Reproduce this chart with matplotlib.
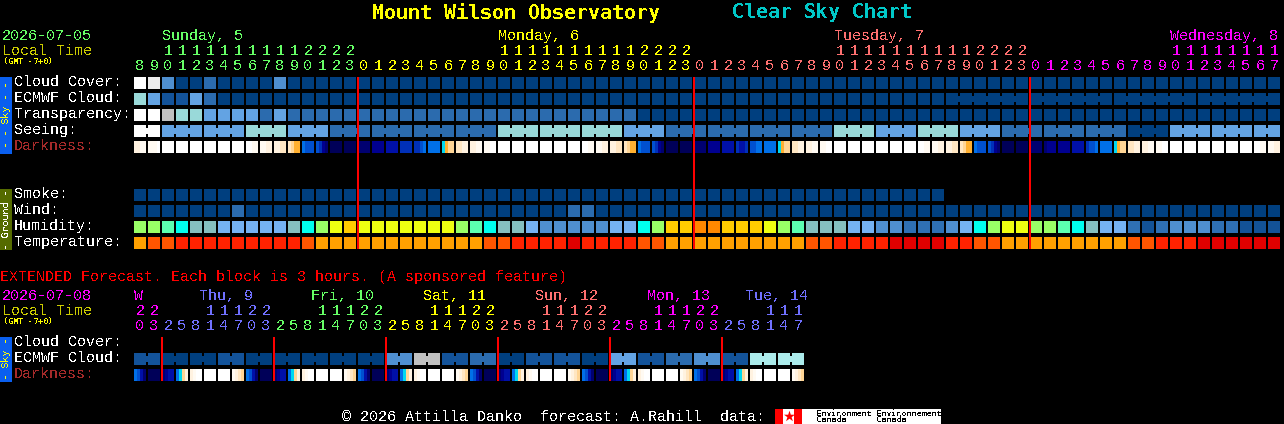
import numpy as np
import matplotlib
matplotlib.use("Agg")
import matplotlib.pyplot as plt

# ---------- data ----------
HOURS = [8,9,10,11,12,13,14,15,16,17,18,19,20,21,22,23,
         0,1,2,3,4,5,6,7,8,9,10,11,12,13,14,15,16,17,18,19,20,21,22,23,
         0,1,2,3,4,5,6,7,8,9,10,11,12,13,14,15,16,17,18,19,20,21,22,23,
         0,1,2,3,4,5,6,7,8,9,10,11,12,13,14,15,16,17]
EXT_HOURS = [20,23,
             2,5,8,11,14,17,20,23, 2,5,8,11,14,17,20,23, 2,5,8,11,14,17,20,23,
             2,5,8,11,14,17,20,23, 2,5,8,11,14,17,20,23, 2,5,8,11,14,17]

# sky levels (0 = best)
cloud_cover = [8,7,3,0,0,2,0,0,0,0,3,0,0,0,0,0,
               0,0,0,0,0,0,0,0,0,0,0,0,0,0,0,0,0,0,0,0,0,0,0,0,
               0,0,0,0,0,0,0,0,0,0,0,0,0,0,0,0,0,0,0,0,0,0,0,0,
               0,0,0,0,0,0,0,0,0,0,0,0,0,0,0,0,0,0]
ecmwf_cloud = [5,4,1,1,4,2,0,0,0,0,0,0,0,0,0,0,
               0,0,0,0,0,0,0,0,0,0,0,0,0,0,0,0,0,0,0,0,0,0,0,0,
               0,0,0,0,0,0,0,0,0,0,0,0,0,0,0,0,0,0,0,0,0,0,0,0,
               0,0,0,0,0,0,0,0,0,0,0,0,0,0,0,0,0,0]
transparency = [8,8,6,5,5,4,4,4,4,2,4,2,2,2,2,2,
                2,2,2,2,2,2,2,2,2,2,2,2,2,2,2,2,2,2,2,2,0,0,0,0,
                0,0,0,0,0,0,0,0,0,0,0,0,0,0,0,0,0,0,0,0,0,0,0,0,
                0,0,0,0,0,0,0,0,0,0,0,0,0,0,0,0,0,0]
seeing = [8,8,4,4,4,4,4,4,5,5,5,4,4,4,2,2,
          2,2,2,2,2,2,2,2,2,2,5,5,5,5,5,5,5,5,5,4,4,4,2,2,
          2,2,2,2,2,2,2,2,2,2,5,5,5,4,4,4,5,5,5,4,4,4,2,2,
          2,2,2,2,2,2,2,0,0,0,4,4,4,4,4,4,4,4]
smoke = [0,0,0,0,0,0,0,0,0,0,0,0,0,0,0,0,
         0,0,0,0,0,0,0,0,0,0,0,0,0,0,0,0,0,0,0,0,0,0,0,0,
         0,0,0,0,0,0,0,0,0,0,0,0,0,0,0,0,0,0]
wind = [0,0,0,0,0,0,0,2,0,0,0,0,0,0,0,0,
        0,0,0,0,0,0,0,0,0,0,0,0,0,0,0,2,2,0,0,0,0,0,0,0,
        0,0,0,0,0,0,0,0,0,0,0,0,0,0,0,0,0,0,0,0,0,0,0,0,
        0,0,0,0,0,0,0,0,0,0,0,0,0,0,0,0,0,0]
humidity = [8,8,9,10,7,7,6,6,6,6,6,7,10,8,11,12,
            11,11,11,11,11,11,11,8,9,10,7,7,6,5,5,5,5,5,6,6,10,8,12,12,
            13,13,12,12,12,11,8,9,7,7,7,6,6,5,5,4,4,4,5,6,10,8,11,11,
            8,8,9,10,7,6,6,4,3,4,5,5,5,4,4,3,3,3]
temperature = [0,1,1,2,2,2,2,2,2,2,2,2,1,0,0,0,
               0,0,0,0,0,0,0,0,0,1,1,2,2,2,2,3,2,2,2,2,1,1,0,0,
               0,0,0,0,0,0,0,0,1,1,2,2,2,2,3,3,3,3,2,2,1,1,0,0,
               0,0,0,0,0,0,0,1,1,2,2,2,3,3,3,3,3,3]

# darkness: four readings inside each block (0 = daylight ... 13 = darkest night)
darkness = [
 (2,2,1,1),(1,1,1,0),(0,0,0,0),(0,0,0,0),(0,0,0,0),(0,0,0,0),(0,0,0,0),(0,0,0,0),
 (0,0,1,1),(1,1,2,2),(2,2,3,3),(3,4,5,5),(7,8,8,8),(8,9,11,12),(13,13,13,13),(13,13,13,13),
 (12,12,12,12),(11,11,11,11),(10,10,10,10),(9,9,9,9),(9,9,8,7),(7,7,7,7),(6,5,4,4),(3,3,2,2),
 (2,2,1,1),(1,1,0,0),(0,0,0,0),(0,0,0,0),(0,0,0,0),(0,0,0,0),(0,0,0,0),(0,0,0,0),
 (0,0,1,1),(1,1,2,2),(2,2,3,3),(3,4,5,5),(7,8,8,8),(8,9,11,12),(13,13,13,13),(13,13,13,13),
 (12,12,12,12),(11,11,11,11),(10,10,10,10),(9,10,10,9),(8,8,7,7),(7,7,7,7),(6,5,4,4),(3,3,2,2),
 (2,2,1,1),(1,1,0,0),(0,0,0,0),(0,0,0,0),(0,0,0,0),(0,0,0,0),(0,0,0,0),(0,0,0,0),
 (0,0,1,1),(1,1,2,2),(2,2,3,3),(3,4,5,5),(7,8,8,8),(8,9,11,12),(13,13,13,13),(13,13,13,13),
 (12,12,12,12),(12,11,11,11),(11,11,11,11),(10,10,10,10),(9,8,8,7),(7,7,7,7),(6,5,4,4),(3,3,2,2),
 (2,2,1,1),(1,1,0,0),(0,0,0,0),(0,0,0,0),(0,0,0,0),(0,0,0,0),(0,0,0,0),(0,0,0,0),
 (0,0,1,1),(1,1,2,2),
]

ext_ecmwf = [1,1,0,0,0,0,1,1,0,0,0,0,0,0,0,0,0,0,
             3,3,6,6,1,1,2,2,0,0,1,1,1,1,0,0,
             4,4,1,1,2,2,3,3,1,1,9,9,9,9]
ext_darkness = [
 (7,8,10,12),(13,13,13,13),(12,11,10,10),(7,6,4,2),(2,1,0,0),(0,0,0,0),(0,0,0,0),(1,2,3,4),
 (7,8,10,12),(13,13,13,13),(12,11,10,10),(7,6,4,2),(2,1,0,0),(0,0,0,0),(0,0,0,0),(1,2,3,4),
 (7,8,10,12),(13,13,13,13),(12,11,10,10),(7,6,4,2),(2,1,0,0),(0,0,0,0),(0,0,0,0),(1,2,3,4),
 (7,8,10,12),(13,13,13,13),(12,11,10,10),(7,6,4,2),(2,1,0,0),(0,0,0,0),(0,0,0,0),(1,2,3,4),
 (7,8,10,12),(13,13,13,13),(12,11,10,10),(7,6,4,2),(2,1,0,0),(0,0,0,0),(0,0,0,0),(1,2,3,4),
 (7,8,10,12),(13,13,13,13),(12,11,10,10),(7,6,4,2),(2,1,0,0),(0,0,0,0),(0,0,0,0),(1,2,3,4),
]

day_labels = ["Sunday, 5", "Monday, 6", "Tuesday, 7", "Wednesday, 8"]
ext_day_labels = ["W", "Thu, 9", "Fri, 10", "Sat, 11", "Sun, 12", "Mon, 13", "Tue, 14"]
sky_labels = ["Cloud Cover:", "ECMWF Cloud:", "Transparency:", "Seeing:", "Darkness:"]
ground_labels = ["Smoke:", "Wind:", "Humidity:", "Temperature:"]

# ---------- styles ----------
SKY = ["#003F7F", "#13539A", "#2B6BAE", "#4F8FD0", "#63A3E3", "#99D9D9",
       "#C0C0C0", "#ECECEC", "#FFFFFF", "#ABEBEB"]
HUM = ["", "", "", "#135297", "#2F70B4", "#4F8FD0", "#75B2F2", "#85BFBF",
       "#99FF66", "#5CFFB0", "#00FFEE", "#EEFF11", "#FFCC00", "#FF8800"]
TEMP = ["#FFA000", "#FF5500", "#FF2200", "#E00000"]
DARK = ["#FFFFFF", "#FFFAF2", "#FFF2E0", "#FFE6C2", "#FFD595", "#FFB030",
        "#00D8F0", "#0070E8", "#0050D0", "#0030B8", "#0010A8", "#000090",
        "#000070", "#000058"]

GREEN, YEL, SALMON, MAG, BLUE = "#66FF66", "#FFFF00", "#FF7070", "#FF00FF", "#7070FF"
DIM = "#CCCC00"
RED = "#FF0000"
plt.rcParams["font.family"] = "Liberation Mono"
plt.rcParams["text.antialiased"] = False
plt.rcParams["text.hinting"] = "native"
plt.rcParams["text.hinting_factor"] = 1
FS = 10.8
TITLE_FONT = "DejaVu Sans Mono"

X0, STEP, W = 134, 14, 12

fig = plt.figure(figsize=(12.84, 4.24), dpi=100, facecolor="black")
ax = fig.add_axes([0, 0, 1, 1], facecolor="black")
ax.set_xlim(0, 1284)
ax.set_ylim(424, 0)
ax.axis("off")

def block_x(n):
    return X0 + STEP * np.arange(n)

def row(values, top, palette, bridge=None):
    x = block_x(len(values))
    cols = [palette[v] for v in values]
    ax.bar(x, W, W, bottom=top, align="edge", color=cols, linewidth=0, antialiased=False)
    if bridge:
        for i in range(len(values) - 1):
            if bridge(i):
                ax.bar(x[i] + W, 6, 2, bottom=top + 3, align="edge",
                       color=cols[i], linewidth=0, antialiased=False)

def gradient_row(samples, top):
    x = block_x(len(samples))
    for xi, quad in zip(x, samples):
        ax.bar(xi + np.arange(4) * 3, W, 3, bottom=top, align="edge",
               color=[DARK[v] for v in quad], linewidth=0, antialiased=False)

def txt(x, y, s, color="white", fs=FS, **kw):
    kw.setdefault("ha", "left")
    kw.setdefault("va", "center")
    ax.text(x, y + 1, s, color=color, fontsize=fs, **kw)

# title
txt(372, 12, "Mount Wilson Observatory", YEL, 14.4, fontweight="bold", family=TITLE_FONT)
txt(732, 12, "Clear Sky Chart", "#00C8C8", 14.4, fontweight="bold", family=TITLE_FONT)

# main header
txt(2, 35, "2026-07-05", GREEN)
txt(2, 50, "Local Time", DIM)
txt(3, 61, "(GMT -7+0)", YEL, 5.8, family=TITLE_FONT)
for x, s, c in zip([162, 498, 834, 1170], day_labels, [GREEN, YEL, SALMON, MAG]):
    txt(x, 35, s, c)

def hour_colors(n_hours, breaks, colors):
    out = []
    for i in range(n_hours):
        out.append(colors[np.searchsorted(breaks, i, side="right")])
    return out

main_cols = hour_colors(len(HOURS), [16, 40, 64], [GREEN, YEL, SALMON, MAG])
for xi, h, c in zip(block_x(len(HOURS)) + 6, HOURS, main_cols):
    if h >= 10:
        txt(xi, 50, str(h // 10), c, ha="center")
    txt(xi, 65, str(h % 10), c, ha="center")

# side bars
ax.bar(0, 77, 12, bottom=77, align="edge", color="#0A5FEF", linewidth=0)
txt(6, 114.5, "- - Sky - -", YEL, 7.2, rotation=90, ha="center", family=TITLE_FONT)
ax.bar(0, 61, 12, bottom=189, align="edge", color="#556B00", linewidth=0)
txt(6, 218.5, "- Ground -", "white", 7.2, rotation=90, ha="center", family=TITLE_FONT)
ax.bar(0, 45, 12, bottom=337, align="edge", color="#0A5FEF", linewidth=0)
txt(6, 358.5, "- Sky -", YEL, 7.2, rotation=90, ha="center", family=TITLE_FONT)

# row labels
for y, s in zip([81, 97, 113, 129, 145], sky_labels):
    txt(14, y, s, "#A52A2A" if s.startswith("Dark") else "white")
for y, s in zip([193, 209, 225, 241], ground_labels):
    txt(14, y, s)

# main rows
row(cloud_cover, 77, SKY)
row(ecmwf_cloud, 93, SKY, bridge=lambda i: i >= 58 and (i + 1 - 58) % 6 != 0)
row(transparency, 109, SKY)
row(seeing, 125, SKY, bridge=lambda i: i == 0 or (i >= 2 and (i + 1 - 2) % 3 != 0))
gradient_row(darkness, 141)
row(smoke, 189, SKY)
row(wind, 205, SKY)
row(humidity, 221, HUM)
row(temperature, 237, TEMP)

# midnight lines
for i in [16, 40, 64]:
    ax.bar(X0 + STEP * i - 1, 172, 2, bottom=77, align="edge", color=RED, linewidth=0, zorder=5)

# extended section
txt(0, 276, "EXTENDED Forecast. Each block is 3 hours. (A sponsored feature)", RED)
txt(2, 295, "2026-07-08", MAG)
txt(2, 310, "Local Time", DIM)
txt(3, 321, "(GMT -7+0)", YEL, 5.8, family=TITLE_FONT)
for x, s, c in zip([134, 199, 311, 423, 535, 647, 745], ext_day_labels,
                   [MAG, BLUE, GREEN, YEL, SALMON, MAG, BLUE]):
    txt(x, 295, s, c)
ext_cols = hour_colors(len(EXT_HOURS), [2, 10, 18, 26, 34, 42],
                       [MAG, BLUE, GREEN, YEL, SALMON, MAG, BLUE])
for xi, h, c in zip(block_x(len(EXT_HOURS)) + 6, EXT_HOURS, ext_cols):
    if h >= 10:
        txt(xi, 310, str(h // 10), c, ha="center")
    txt(xi, 325, str(h % 10), c, ha="center")

for y, s in zip([341, 357, 373], [sky_labels[0], sky_labels[1], sky_labels[4]]):
    txt(14, y, s, "#A52A2A" if s.startswith("Dark") else "white")
row(ext_ecmwf, 353, SKY, bridge=lambda i: (i + 1) % 2 != 0)
gradient_row(ext_darkness, 369)
for i in [2, 10, 18, 26, 34, 42]:
    ax.bar(X0 + STEP * i - 1, 44, 2, bottom=337, align="edge", color=RED, linewidth=0, zorder=5)

# footer
txt(342, 416, "\u00a9 2026 Attilla Danko  forecast: A.Rahill  data:")
ax.bar(775, 15, 166, bottom=409, align="edge", color="white", linewidth=0)
ax.bar(775, 15, 8, bottom=409, align="edge", color=RED, linewidth=0)
ax.bar(794, 15, 8, bottom=409, align="edge", color=RED, linewidth=0)
ax.scatter([788.5], [416], marker="*", s=70, color=RED, linewidths=0)
txt(816, 412, "Environment", "black", 5.5, family=TITLE_FONT)
txt(816, 419, "Canada", "black", 5.5, family=TITLE_FONT)
txt(876, 412, "Environnement", "black", 5.5, family=TITLE_FONT)
txt(876, 419, "Canada", "black", 5.5, family=TITLE_FONT)

fig.savefig("out.png", dpi=100, facecolor="black")
